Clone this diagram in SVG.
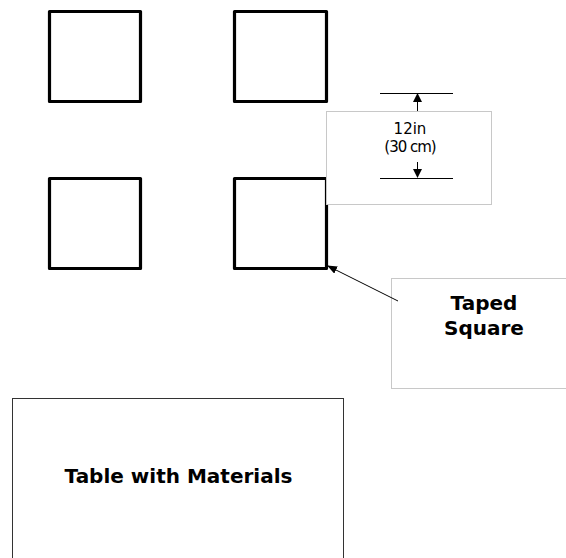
<svg xmlns="http://www.w3.org/2000/svg" width="566" height="558" viewBox="0 0 566 558">
<defs>
<marker id="ah" markerWidth="10" markerHeight="8" refX="9" refY="4" orient="auto" markerUnits="userSpaceOnUse">
<path d="M0,0 L10,4 L0,8 Z" fill="#000"/>
</marker>
</defs>
<style>
.sq{fill:none;stroke:#000;stroke-width:3.2;stroke-linejoin:round}
.gbox{fill:#fff;stroke:#c8c8c8;stroke-width:1}
.tbox{fill:#fff;stroke:#333;stroke-width:1}
.lbl{font-family:"DejaVu Sans","Liberation Sans",sans-serif;font-weight:bold;font-size:20px;text-anchor:middle;fill:#000}
.dim{font-family:"DejaVu Sans","Liberation Sans",sans-serif;font-size:15px;text-anchor:middle;fill:#000}
.ln{stroke:#000;stroke-width:1;fill:none}
</style>
<rect width="566" height="558" fill="#fff"/>
<g id="square1"><rect class="sq" x="49.5" y="11.5" width="91" height="90"/></g>
<g id="square2"><rect class="sq" x="234.5" y="11.5" width="92" height="90"/></g>
<g id="square3"><rect class="sq" x="49.5" y="178.5" width="91" height="90"/></g>
<g id="square4"><rect class="sq" x="234.5" y="178.5" width="92" height="90"/></g>
<g id="dimension">
<rect class="gbox" x="326.5" y="111.5" width="165" height="93"/>
<line class="ln" x1="380" y1="93.5" x2="453" y2="93.5"/>
<line class="ln" x1="380" y1="178.5" x2="453" y2="178.5"/>
<line class="ln" x1="417.5" y1="101" x2="417.5" y2="111"/>
<path d="M417.5,93 L413,102 L422,102 Z" fill="#000"/>
<line class="ln" x1="417.5" y1="162" x2="417.5" y2="170"/>
<path d="M417.5,178 L413,169 L422,169 Z" fill="#000"/>
<text class="dim" x="410" y="134">12in</text>
<text class="dim" x="410" y="152" letter-spacing="-1">(30 cm)</text>
</g>
<g id="taped-label">
<rect class="gbox" x="391.5" y="278.5" width="180" height="110"/>
<text class="lbl" x="484" y="310">Taped</text>
<text class="lbl" x="484" y="335">Square</text>
</g>
<g id="table">
<rect class="tbox" x="12.5" y="398.5" width="331" height="170"/>
<text class="lbl" x="178.5" y="483" font-size="20.5">Table with Materials</text>
</g>
<g id="connectors">
<line x1="398" y1="301" x2="328" y2="266" stroke="#000" stroke-width="1" marker-end="url(#ah)"/>
</g>
</svg>
